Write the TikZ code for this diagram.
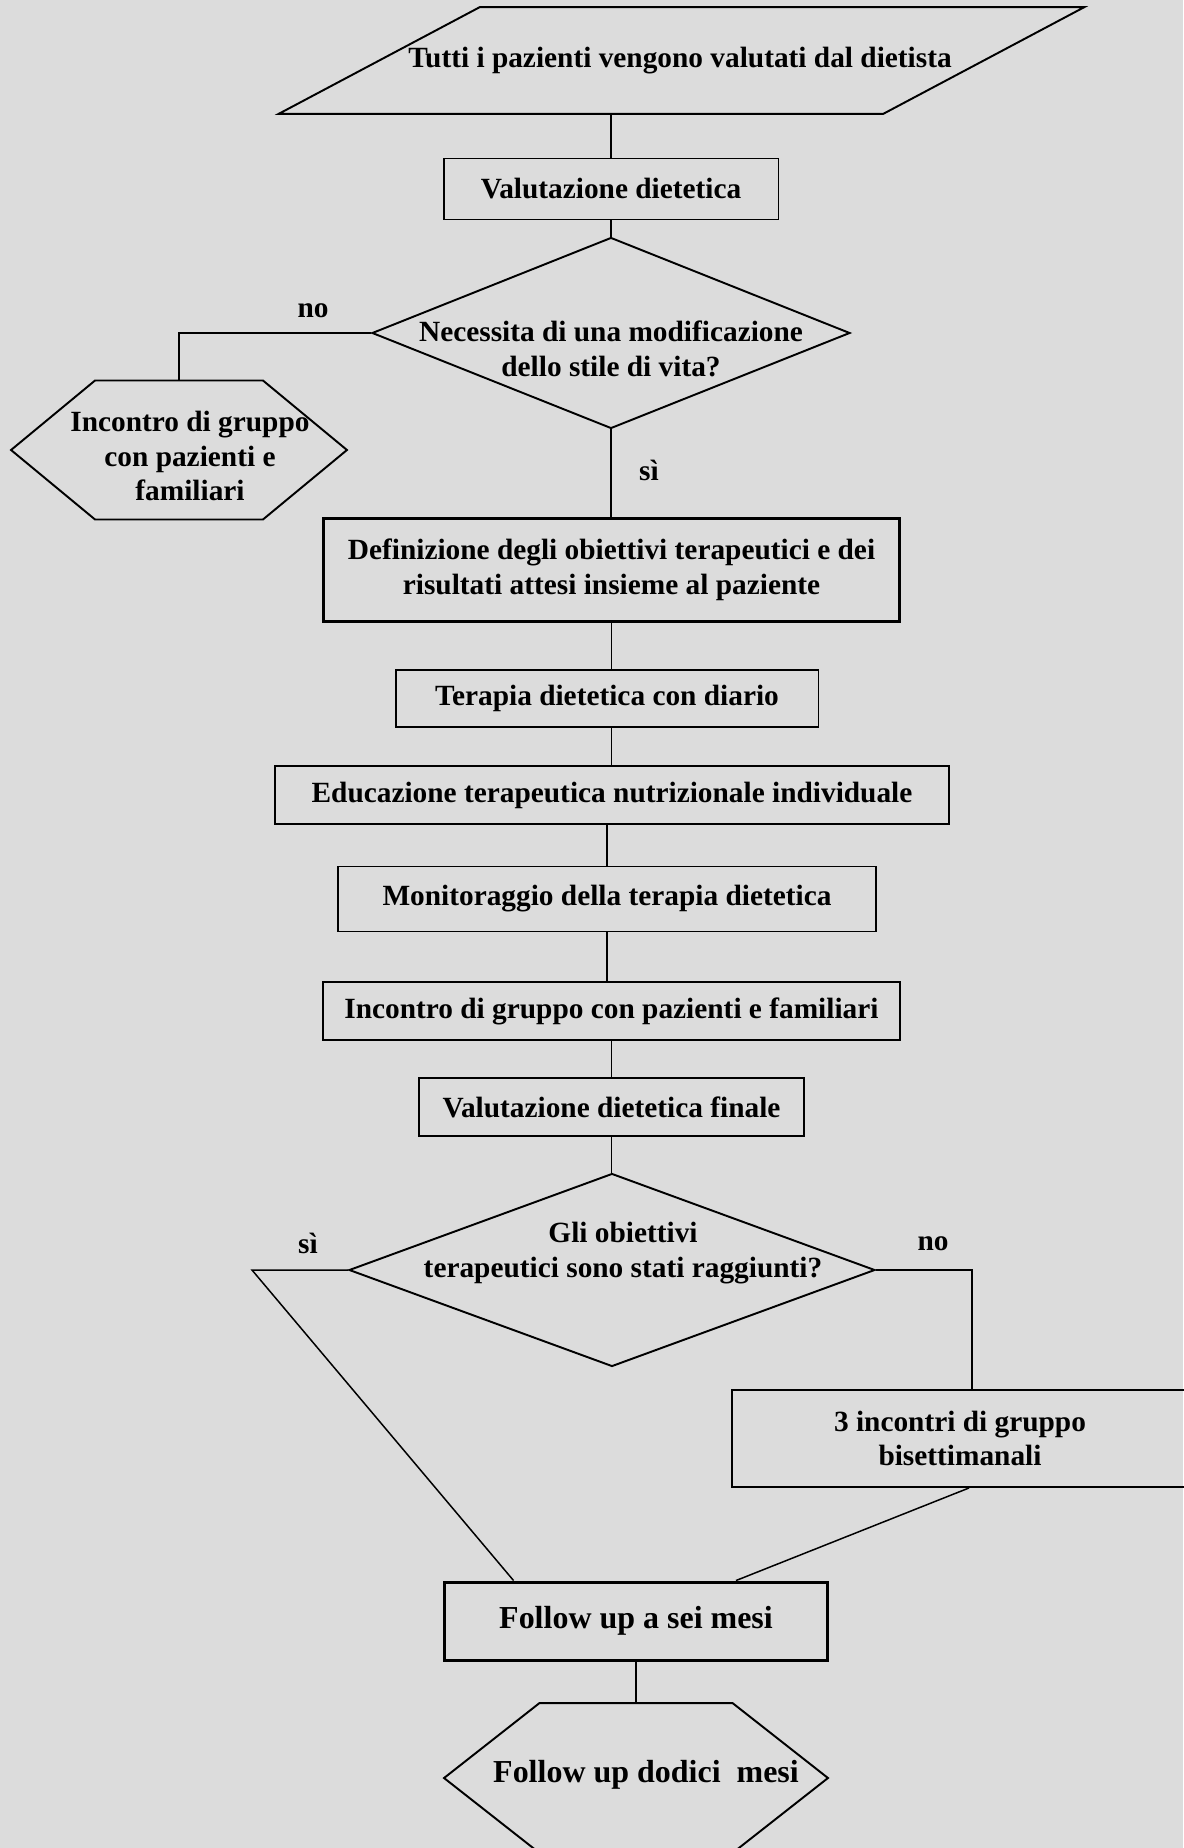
\documentclass[tikz,border=0pt]{standalone}
\usepackage{fontspec}
\setmainfont{Liberation Serif}
\usetikzlibrary{positioning,calc,shapes.geometric,shapes.symbols}
\definecolor{bgc}{RGB}{220,220,220}
\newcommand{\fchart}{\bfseries\fontsize{16.7}{19.6}\selectfont}
\newcommand{\fbig}{\bfseries\fontsize{18.2}{21}\selectfont}
\tikzset{
  box/.style   ={draw,line width=1.1pt,inner sep=0pt,font=\fchart,align=center},
  boxb/.style  ={box,line width=1.7pt},
  dec/.style   ={diamond,draw,line width=1.1pt,inner sep=0pt},
  hexa/.style  ={signal,signal to=west and east,draw,line width=1.1pt,inner sep=0pt},
  area/.style  ={inner sep=0pt},
  txt/.style   ={font=\fchart,align=center,inner sep=1pt},
  lnk/.style   ={line width=0.85pt},
}

\begin{document}
\begin{tikzpicture}[x=0.02cm,y=-0.02cm]
  \useasboundingbox[fill=bgc] (0,0) rectangle (1183,1848);
  % first assessment
  \node[area,minimum width=16.1cm,minimum height=2.12cm] (start) at (681.5,60.5) {};
  \draw[line width=1.1pt] (start.south west) -- ($(start.north west)+(201,0)$) -- (start.north east)
    -- ($(start.south east)+(-201,0)$) -- cycle;
  \node[txt] (starttxt) at (680,61) {Tutti i pazienti vengono valutati dal dietista};
  \node[box,minimum width=6.7cm,minimum height=1.22cm] (valdiet) at (611,189) {Valutazione dietetica};
  \node[dec,minimum width=9.56cm,minimum height=3.82cm] (dec1) at (611,333) {};
  \node[txt] (dec1txt) at (611,349) {Necessita di una modificazione\\dello stile di vita?};
  \node[hexa,signal pointer angle=79.2,minimum width=6.72cm,minimum height=2.78cm] (hex1) at (179,450) {};
  \node[txt] (hex1txt) at (190,456) {Incontro di gruppo\\con pazienti e\\familiari};
  \node[txt] (no1) at (313,311) {no};
  \node[txt] (si1) at (649,470) {sì};
  % individual path
  \node[boxb,minimum width=11.54cm,minimum height=2.06cm] (defin) at (611.5,570)
    {Definizione degli obiettivi terapeutici e dei\\risultati attesi insieme al paziente};
  \node[box,minimum width=8.46cm,minimum height=1.14cm] (terapia) at (607,698.5) {Terapia dietetica con diario};
  \node[box,minimum width=13.48cm,minimum height=1.16cm] (educ) at (612,795) {Educazione terapeutica nutrizionale individuale};
  \node[box,minimum width=10.78cm,minimum height=1.3cm] (monit) at (607,899) {Monitoraggio della terapia dietetica};
  \node[box,minimum width=11.54cm,minimum height=1.16cm] (incontro) at (611.5,1011) {Incontro di gruppo con pazienti e familiari};
  \node[box,minimum width=7.7cm,minimum height=1.16cm] (finale) at (611.5,1107) {Valutazione dietetica finale};
  % final check
  \node[dec,minimum width=10.52cm,minimum height=3.86cm] (dec2) at (612,1270) {};
  \node[txt] (dec2txt) at (623,1253) {Gli obiettivi\\terapeutici sono stati raggiunti?};
  \node[txt] (si2) at (308,1243.5) {sì};
  \node[txt] (no2) at (933,1243.5) {no};
  \node[box,minimum width=9.12cm,minimum height=1.94cm] (rep3) at (960,1438.5) {3 incontri di gruppo\\bisettimanali};
  \node[boxb,font=\fbig,minimum width=7.68cm,minimum height=1.56cm] (follow) at (636,1621) {Follow up a sei mesi};
  \node[hexa,signal pointer angle=76.3,minimum width=7.68cm,minimum height=3cm] (follow12) at (636,1778) {};
  \node[txt,font=\fbig] (follow12txt) at (646,1775) {Follow up dodici~ mesi};
  \coordinate (c1) at (252,1270);
  % connectors
  \draw[lnk] (start.south -| valdiet.north) -- (valdiet.north);
  \draw[lnk] (valdiet.south) -- (dec1.north);
  \draw[lnk] (dec1.west) -| (hex1.north);
  \draw[lnk] (dec1.south) -- (dec1.south |- defin.north);
  \draw[lnk] (defin.south) -- (defin.south |- terapia.north);
  \draw[lnk] (terapia.south -| defin.south) -- (defin.south |- educ.north);
  \draw[lnk] (educ.south -| monit.north) -- (monit.north);
  \draw[lnk] (monit.south) -- (monit.south |- incontro.north);
  \draw[lnk] (incontro.south) -- (incontro.south |- finale.north);
  \draw[lnk] (finale.south) -- (finale.south |- dec2.north);
  \draw[lnk] (dec2.west) -- (c1) -- ($(follow.north west)+(71,0)$);
  \draw[lnk] (dec2.east) -| ($(rep3.north)+(12,0)$);
  \draw[lnk] ($(rep3.south)+(9,0)$) -- ($(follow.north)+(100,0)$);
  \draw[lnk] (follow.south) -- (follow12.north);
\end{tikzpicture}
\end{document}
